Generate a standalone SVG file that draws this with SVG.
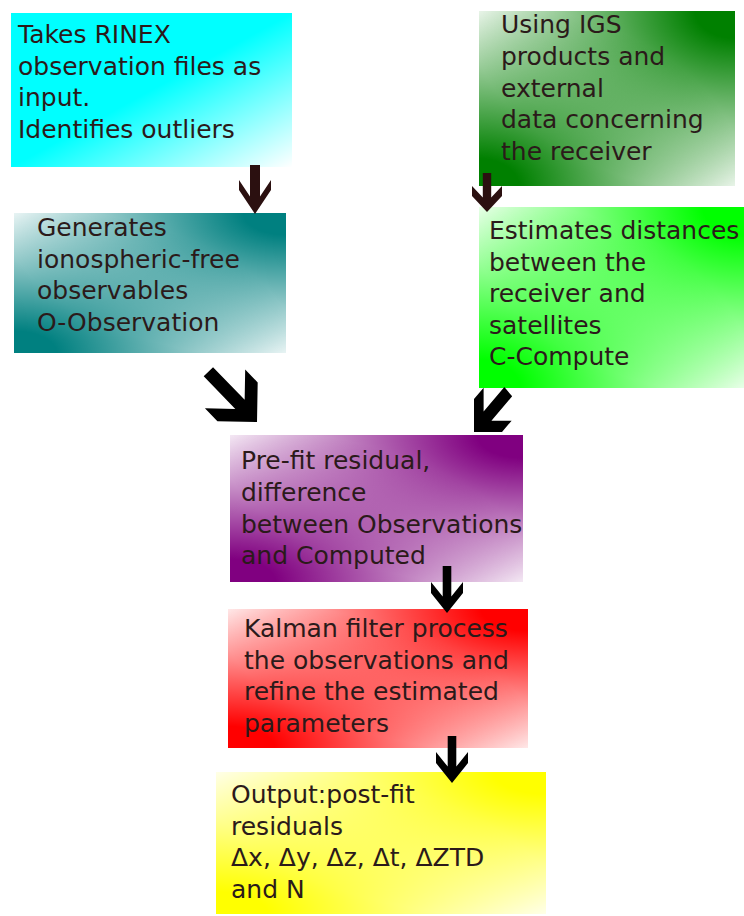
<svg xmlns="http://www.w3.org/2000/svg" width="744" height="916" viewBox="0 0 744 916">
<defs>
<style>
text{font-family:"DejaVu Sans",Verdana,sans-serif;font-size:25px;fill:#2b1a1a}
.brown{fill:#2b1010}
.black{fill:#000}
.box{mask:url(#mk)}
</style>
<linearGradient id="gCyan" x1="0" y1="0" x2="1" y2="1"><stop offset="0" stop-color="#00ffff"/><stop offset="0.5" stop-color="#00ffff"/><stop offset="1" stop-color="#ffffff"/></linearGradient>
<radialGradient id="rTR" cx="1" cy="0" r="1.04" fx="1" fy="0"><stop offset="0" stop-color="#fff" stop-opacity="1"/><stop offset="0.15" stop-color="#fff" stop-opacity="1"/><stop offset="1" stop-color="#fff" stop-opacity="0"/></radialGradient>
<radialGradient id="rBL" cx="0" cy="1" r="1.04" fx="0" fy="1"><stop offset="0" stop-color="#fff" stop-opacity="1"/><stop offset="0.15" stop-color="#fff" stop-opacity="1"/><stop offset="1" stop-color="#fff" stop-opacity="0"/></radialGradient>
<mask id="mk" maskContentUnits="objectBoundingBox"><rect x="0" y="0" width="1" height="1" fill="#000"/><rect x="0" y="0" width="1" height="1" fill="url(#rTR)"/><rect x="0" y="0" width="1" height="1" fill="url(#rBL)"/></mask>
<path id="arrSmall" d="M0,0 L16,-20 L16,-31 L4.3,-16.4 L4.3,-47 L-4.3,-47 L-4.3,-16.4 L-16,-31 L-16,-20 Z"/>
</defs>

<g id="node-rinex">
<rect x="11" y="13" width="281" height="154" fill="url(#gCyan)"/>
<text><tspan x="18" y="43">Takes RINEX</tspan><tspan x="18" y="74.5">observation files as</tspan><tspan x="18" y="106">input.</tspan><tspan x="18" y="137.5">Identifies outliers</tspan></text>
</g>

<g id="node-iono">
<rect class="box" x="14" y="213" width="272" height="140" fill="#008080"/>
<text><tspan x="37" y="236">Generates</tspan><tspan x="37" y="267.5">ionospheric-free</tspan><tspan x="37" y="299">observables</tspan><tspan x="37" y="330.5">O-Observation</tspan></text>
</g>

<g id="node-igs">
<rect class="box" x="479" y="11" width="256" height="175" fill="#008000"/>
<text><tspan x="501" y="33">Using IGS</tspan><tspan x="501" y="64.8">products and</tspan><tspan x="501" y="96.6">external</tspan><tspan x="501" y="128.4">data concerning</tspan><tspan x="501" y="160.2">the receiver</tspan></text>
</g>

<g id="node-compute">
<rect class="box" x="479" y="207" width="265" height="181" fill="#00ff00"/>
<text><tspan x="489" y="239">Estimates distances</tspan><tspan x="489" y="270.5">between the</tspan><tspan x="489" y="302">receiver and</tspan><tspan x="489" y="333.5">satellites</tspan><tspan x="489" y="365">C-Compute</tspan></text>
</g>

<g id="node-prefit">
<rect class="box" x="230" y="435" width="293" height="147" fill="#800080"/>
<text><tspan x="241" y="469">Pre-fit residual,</tspan><tspan x="241" y="500.8">difference</tspan><tspan x="241" y="532.6">between Observations</tspan><tspan x="241" y="564.4">and Computed</tspan></text>
</g>

<g id="node-kalman">
<rect class="box" x="228" y="609" width="300" height="139" fill="#ff0000"/>
<text><tspan x="244" y="637">Kalman filter process</tspan><tspan x="244" y="668.5">the observations and</tspan><tspan x="244" y="700">refine the estimated</tspan><tspan x="244" y="731.5">parameters</tspan></text>
</g>

<g id="node-output">
<rect class="box" x="216" y="772" width="330" height="142" fill="#ffff00"/>
<text><tspan x="231" y="803">Output:post-fit</tspan><tspan x="231" y="834.5">residuals</tspan><tspan x="231" y="866">Δx, Δy, Δz, Δt, ΔZTD</tspan><tspan x="231" y="897.5">and N</tspan></text>
</g>

<g id="connectors">
<path class="brown" transform="translate(255,214)" d="M0,0 L16,-24 L16,-34 L5,-17.5 L5,-49 L-5,-49 L-5,-17.5 L-16,-34 L-16,-24 Z"/>
<path class="brown" transform="translate(487,212)" d="M0,0 L15,-16 L15,-26 L4.2,-14.5 L4.2,-39 L-4.2,-39 L-4.2,-14.5 L-15,-26 L-15,-16 Z"/>
<path class="black" transform="translate(257,422) rotate(-44)" d="M0,0 L28,-28 L28,-46 L6.5,-24.5 L6.5,-70 L-6.5,-70 L-6.5,-24.5 L-28,-46 L-28,-28 Z"/>
<path class="black" transform="translate(474,432) scale(0.85,1) rotate(45)" d="M0,0 L23.3,-23.3 L23.3,-39.3 L6.5,-22.5 L6.5,-57 L-6.5,-57 L-6.5,-22.5 L-23.3,-39.3 L-23.3,-23.3 Z"/>
<use href="#arrSmall" class="black" transform="translate(447,613)"/>
<use href="#arrSmall" class="black" transform="translate(452,783)"/>
</g>
</svg>
